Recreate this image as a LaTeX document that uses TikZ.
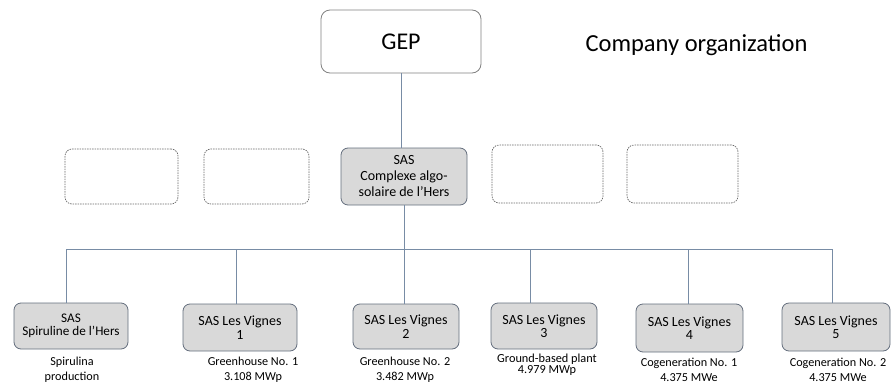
\documentclass[tikz,border=0pt]{standalone}
\usepackage{fontspec}
\setmainfont{Carlito}
\usepackage{xcolor}
\definecolor{linecol}{RGB}{120,140,165}
\definecolor{boxline}{RGB}{100,110,125}
\definecolor{boxfill}{RGB}{217,217,217}
\definecolor{dashcol}{RGB}{105,105,105}
\tikzset{
	unitbox/.style = {draw = boxline, fill = boxfill, line width = 0.8pt, rounded corners = 7pt, align = center, inner sep = 0pt, font = \fontsize{14}{13.5}\selectfont},
	emptybox/.style = {draw = dashcol, line width = 0.7pt, dash pattern = on 1.5pt off 1pt, rounded corners = 7pt, inner sep = 0pt},
	caption/.style = {align = center, inner sep = 0pt, font = \fontsize{12.2}{15}\selectfont},
	link/.style = {draw = linecol, line width = 1pt}
}

\begin{document}
\begin{tikzpicture}[x = 1pt, y = -1pt]
		\useasboundingbox (0, 0) rectangle (894, 383);
		% 顶层
		\node [draw = gray, line width = 0.8pt, rounded corners = 9pt, minimum width = 160pt, minimum height = 63pt, font = \fontsize{24}{28}\selectfont] (gep) at (401, 41.5) {GEP};
		\node [anchor = base, inner sep = 0pt, font = \fontsize{24.5}{28}\selectfont] (title) at (696.5, 51) {Company organization};
		% 中间一层
		\node [emptybox, minimum width = 113pt, minimum height = 55pt] (e1) at (121.5, 176.5) {};
		\node [emptybox, minimum width = 105pt, minimum height = 55pt] (e2) at (256.5, 176.5) {};
		\node [unitbox, minimum width = 126pt, minimum height = 57pt, font = \fontsize{14}{16}\selectfont] (sas) at (404, 176.5) {SAS\\Complexe algo-\\solaire de l’Hers};
		\node [emptybox, minimum width = 111pt, minimum height = 58pt] (e3) at (547.5, 174) {};
		\node [emptybox, minimum width = 111pt, minimum height = 58pt] (e4) at (682.5, 174) {};
		% 底层
		\node [unitbox, minimum width = 114pt, minimum height = 46pt, font = \fontsize{13.2}{13.5}\selectfont] (spir) at (71, 326) {SAS\\Spiruline de l'Hers};
		\node [unitbox, minimum width = 114pt, minimum height = 47pt] (v1) at (240, 327.5) {SAS Les Vignes\\1};
		\node [unitbox, minimum width = 106pt, minimum height = 45pt] (v2) at (406, 326.5) {SAS Les Vignes\\2};
		\node [unitbox, minimum width = 106pt, minimum height = 46pt] (v3) at (544, 326) {SAS Les Vignes\\3};
		\node [unitbox, minimum width = 107pt, minimum height = 48pt] (v4) at (689.5, 328) {SAS Les Vignes\\4};
		\node [unitbox, minimum width = 108pt, minimum height = 48pt] (v5) at (836, 327) {SAS Les Vignes\\5};
		% 说明文字
		\node [caption] (c0) at (72, 370) {Spirulina\\production};
		\node [caption] (c1) at (253, 370) {Greenhouse No. 1\\3.108 MWp};
		\node [caption] (c2) at (405, 370) {Greenhouse No. 2\\3.482 MWp};
		\node [caption, font = \fontsize{12.3}{11}\selectfont] (c3) at (547, 365) {Ground-based plant\\4.979 MWp};
		\node [caption] (c4) at (689, 370) {Cogeneration No. 1\\4.375 MWe};
		\node [caption] (c5) at (838, 370) {Cogeneration No. 2\\4.375 MWe};
		% 连线
		\coordinate (bus) at (404, 249.5);
		\draw [link] (gep.south) -- (gep.south |- sas.north);
		\draw [link] (sas.south) -- (bus);
		\draw [link] ([xshift = -5pt]spir.north) |- (bus);
		\draw [link] ([xshift = -4pt]v1.north) |- (bus);
		\draw [link] ([xshift = -2pt]v2.north) |- (bus);
		\draw [link] ([xshift = -14pt]v3.north) |- (bus);
		\draw [link] ([xshift = -1pt]v4.north) |- (bus);
		\draw [link] ([xshift = -4pt]v5.north) |- (bus);
	\end{tikzpicture}
\end{document}
